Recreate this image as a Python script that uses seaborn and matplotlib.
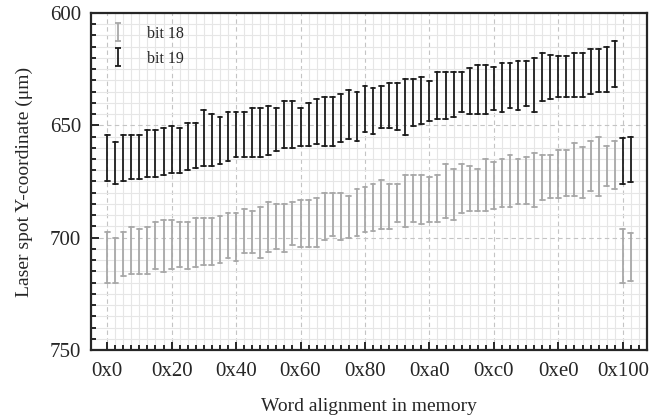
import matplotlib
matplotlib.use("Agg")
import matplotlib.pyplot as plt
from matplotlib.lines import Line2D
from matplotlib.path import Path
import seaborn as sns
import numpy as np
import pandas as pd

# Word offsets (0x0 .. 0x104, step 4)
offsets = np.arange(0, 264, 4)

# bit 18: lower / upper end of each bar (um)
bit18_top = [697.3, 700.3, 697.3, 695.1, 696.1, 695.1, 693.2, 692.1, 692.1, 693.2,
             693.2, 691.1, 691.1, 691.1, 690.2, 689.2, 689.2, 687.2, 688.1, 686.2,
             684.3, 685.1, 685.1, 684.3, 683.2, 683.2, 682.2, 680.0, 680.0, 680.0,
             681.3, 678.3, 677.3, 676.2, 674.3, 676.2, 676.2, 672.1, 672.1, 672.1,
             673.1, 672.1, 667.2, 669.4, 667.2, 668.1, 669.4, 665.1, 666.2, 665.1,
             663.2, 665.1, 664.2, 662.2, 663.2, 663.2, 661.0, 661.0, 658.0, 659.8,
             657.0, 655.0, 659.0, 657.0, 696.1, 698.1]
bit18_bottom = [720.0, 720.0, 717.0, 716.2, 716.2, 716.2, 714.1, 715.1, 714.1, 713.2,
                714.1, 713.2, 712.1, 712.1, 711.1, 709.2, 710.2, 707.0, 707.0, 709.2,
                706.2, 705.2, 706.2, 703.2, 704.3, 704.3, 704.3, 701.0, 699.2, 701.0,
                700.3, 699.2, 697.3, 697.0, 696.3, 696.3, 693.2, 695.1, 693.2, 694.1,
                693.2, 693.2, 691.1, 692.1, 689.2, 688.1, 688.1, 688.1, 687.2, 686.2,
                686.2, 685.1, 685.1, 686.2, 683.2, 682.2, 682.2, 681.3, 681.3, 682.2,
                679.2, 681.3, 677.0, 678.3, 720.0, 719.1]

# bit 19
bit19_top = [654.3, 657.3, 654.3, 654.3, 654.3, 652.1, 652.1, 651.0, 650.1, 651.0,
             649.1, 649.1, 643.2, 645.1, 646.1, 644.1, 644.1, 644.1, 642.1, 642.1,
             641.2, 642.1, 639.0, 639.0, 642.1, 640.2, 638.1, 637.2, 637.2, 636.2,
             634.3, 635.0, 632.3, 633.2, 632.3, 631.0, 631.0, 629.2, 629.2, 628.3,
             630.1, 626.3, 626.3, 626.3, 626.3, 624.3, 623.1, 623.1, 624.2, 622.1,
             622.1, 621.2, 621.2, 620.2, 617.9, 618.7, 619.1, 619.1, 617.9, 617.9,
             616.2, 616.2, 615.0, 612.3, 655.8, 655.0]
bit19_bottom = [675.0, 676.0, 675.0, 674.0, 674.0, 673.0, 673.0, 672.0, 671.0, 671.0,
                670.0, 669.0, 668.0, 668.0, 667.0, 666.0, 663.9, 663.9, 664.0, 663.9,
                663.2, 661.3, 659.9, 659.9, 659.2, 659.2, 658.5, 659.2, 659.2, 657.3,
                656.1, 657.0, 653.1, 653.7, 651.0, 651.0, 652.1, 654.3, 650.3, 649.4,
                648.1, 647.2, 647.2, 646.1, 644.1, 645.1, 645.1, 645.1, 643.2, 644.1,
                642.1, 643.2, 641.2, 643.9, 639.0, 638.1, 637.2, 637.2, 637.2, 637.2,
                636.2, 635.2, 635.0, 633.1, 676.1, 675.2]

series = ["bit 18", "bit 19"]
colors = {"bit 18": "#a8a8a8", "bit 19": "#1c1c1c"}

# Long table: two rows (ends of the bar) per offset and bit
rows = []
for name, top, bottom in [("bit 18", bit18_top, bit18_bottom),
                          ("bit 19", bit19_top, bit19_bottom)]:
    for x, lo, hi in zip(offsets, top, bottom):
        rows.append((name, x, lo))
        rows.append((name, x, hi))
df = pd.DataFrame(rows, columns=["bit", "offset", "y"])

sns.set_style("ticks")
plt.rcParams["font.family"] = ["Liberation Serif", "DejaVu Serif"]

fig = plt.figure(figsize=(6.53, 4.19), dpi=100)
ax = fig.add_axes([0.1394, 0.1647, 0.8514, 0.8043])

sns.pointplot(data=df, x="offset", y="y", hue="bit", hue_order=series,
              palette=colors, native_scale=True, estimator="mean",
              errorbar=("pi", 100), capsize=0.6, marker="", linestyle="none",
              err_kws={"linewidth": 1.3}, dodge=False, legend=False, ax=ax)

# Axes
ax.set_xlim(-8, 268)
ax.set_ylim(750, 600)
xt = np.arange(0, 257, 32)
ax.set_xticks(xt)
ax.set_xticklabels([hex(v) for v in xt])
ax.set_xticks(np.arange(0, 268, 4), minor=True)
ax.set_yticks([600, 650, 700, 750])
ax.set_yticks(np.arange(600, 751, 5), minor=True)
ax.tick_params(which="both", direction="in", width=1.4, labelsize=15,
               top=False, right=False)
ax.tick_params(which="major", length=6, pad=7)
ax.tick_params(axis="x", which="major", pad=9)
ax.tick_params(which="minor", length=3.5)
for s in ax.spines.values():
    s.set_linewidth(1.6)
    s.set_visible(True)

ax.grid(which="minor", color="#e6e6e6", linewidth=0.8, linestyle="-")
ax.grid(which="major", color="#c4c4c4", linewidth=0.8, linestyle=(0, (4, 3)))
ax.set_axisbelow(True)

ax.set_xlabel("Word alignment in memory", fontsize=14, labelpad=12)
ax.set_ylabel("Laser spot Y-coordinate (μm)", fontsize=14, labelpad=12)

# Legend with error-bar glyphs
bar = Path([(-0.3, 1), (0.3, 1), (0, 1), (0, -1), (-0.3, -1), (0.3, -1)],
           [Path.MOVETO, Path.LINETO, Path.MOVETO, Path.LINETO, Path.MOVETO, Path.LINETO])
handles = [Line2D([], [], linestyle="none", marker=bar, markersize=12.5,
                  markeredgewidth=1.3, markeredgecolor=colors[s],
                  markerfacecolor="none") for s in series]
ax.legend(handles, series, loc="upper left", frameon=False, fontsize=11.5,
          labelspacing=0.55, handlelength=1.6, handletextpad=1.0,
          borderaxespad=0.3, bbox_to_anchor=(0.005, 0.995))

plt.savefig("out.png", dpi=100)
